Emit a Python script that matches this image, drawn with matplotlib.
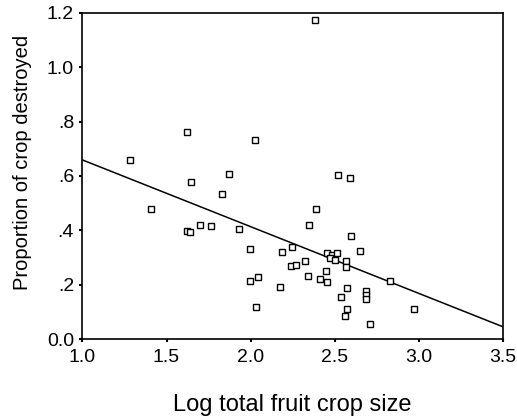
import matplotlib
matplotlib.use('Agg')
import matplotlib.pyplot as plt

# Data
log_crop = [1.283, 1.623, 2.027, 1.645, 1.871, 1.829, 2.385, 2.522, 2.593,
            1.407, 1.623, 1.639, 1.698, 1.762, 1.932, 1.999, 1.999, 2.041,
            2.029, 2.177, 2.189, 2.391, 2.346, 2.595, 2.247, 2.453, 2.482,
            2.514, 2.470, 2.504, 2.648, 2.569, 2.569, 2.322, 2.239, 2.268,
            2.447, 2.338, 2.411, 2.453, 2.827, 2.575, 2.534, 2.688, 2.688,
            2.688, 2.971, 2.575, 2.561, 2.708]
prop_destroyed = [0.658, 0.763, 0.734, 0.578, 0.607, 0.533, 1.174, 0.605, 0.591,
                  0.477, 0.399, 0.394, 0.420, 0.415, 0.406, 0.331, 0.215, 0.227,
                  0.118, 0.193, 0.319, 0.478, 0.420, 0.378, 0.340, 0.315, 0.310,
                  0.315, 0.297, 0.291, 0.324, 0.286, 0.264, 0.286, 0.269, 0.272,
                  0.251, 0.231, 0.222, 0.211, 0.215, 0.189, 0.156, 0.175, 0.161,
                  0.147, 0.109, 0.109, 0.085, 0.055]

# Fitted regression line end points
fit_x = [1.0, 3.5]
fit_y = [0.659, 0.045]

x_ticks = [1.0, 1.5, 2.0, 2.5, 3.0, 3.5]
x_tick_labels = ["1.0", "1.5", "2.0", "2.5", "3.0", "3.5"]
y_ticks = [0.0, 0.2, 0.4, 0.6, 0.8, 1.0, 1.2]
y_tick_labels = ["0.0", ".2", ".4", ".6", ".8", "1.0", "1.2"]

plt.rcParams['font.family'] = ['Liberation Sans', 'DejaVu Sans']

fig = plt.figure(figsize=(5.17, 4.16), dpi=100)
ax = fig.add_axes([0.1594, 0.185, 0.8136, 0.784])

ax.plot(fit_x, fit_y, color='black', linewidth=1.1)
ax.plot(log_crop, prop_destroyed, linestyle='none', marker='s', markersize=5,
        markerfacecolor='white', markeredgecolor='black', markeredgewidth=1)

ax.set_xlim(1.0, 3.5)
ax.set_ylim(0.0, 1.2)
ax.set_xticks(x_ticks)
ax.set_xticklabels(x_tick_labels)
ax.set_yticks(y_ticks)
ax.set_yticklabels(y_tick_labels)
ax.tick_params(direction='out', length=2.5, width=1.5, labelsize=14)
ax.tick_params(axis='x', pad=5)
ax.tick_params(axis='y', pad=3.5)
for s in ax.spines.values():
    s.set_linewidth(1.2)

ax.set_xlabel("Log total fruit crop size", fontsize=17, labelpad=20)
ax.set_ylabel("Proportion of crop destroyed", fontsize=14.5)
ax.yaxis.set_label_coords(-0.12, 0.54)

plt.savefig("out.png", dpi=100)
